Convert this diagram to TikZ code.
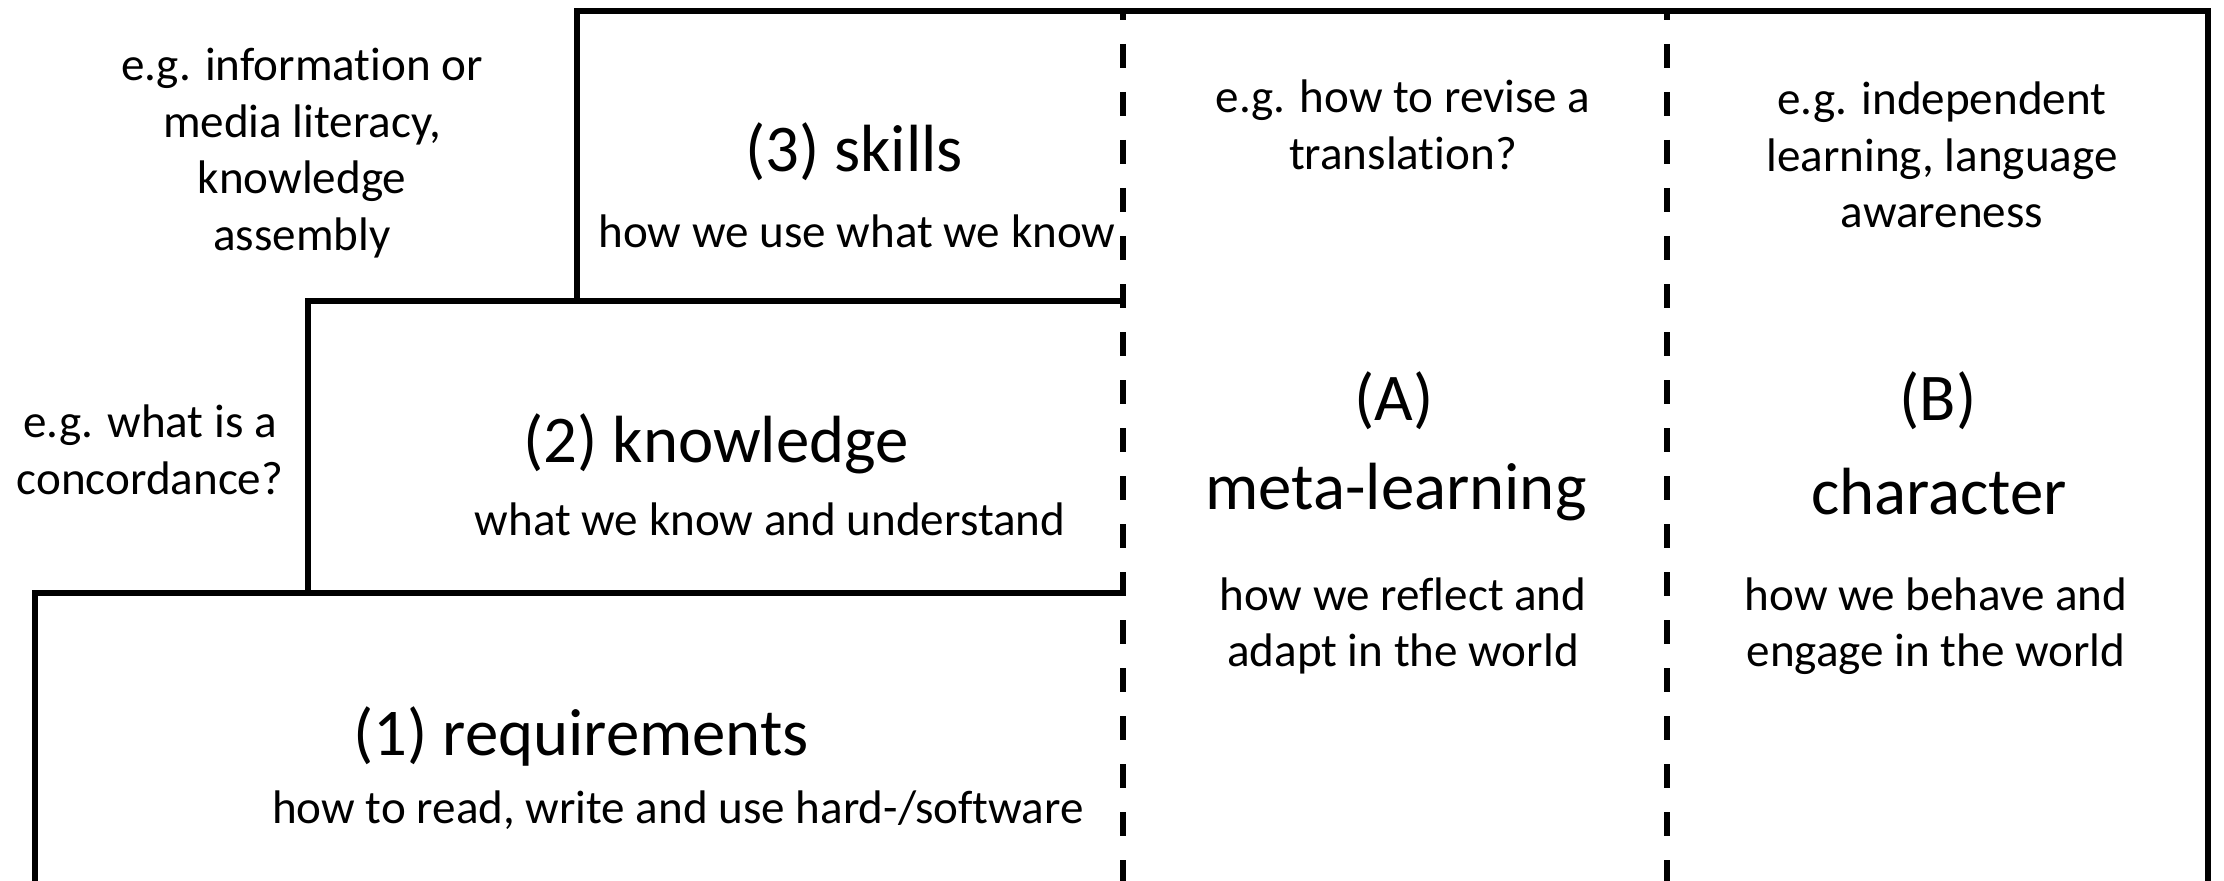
\documentclass[tikz,border=0pt]{standalone}
\usepackage{fontspec}
\setmainfont{Carlito}[Ligatures=CommonOff]
\usetikzlibrary{positioning}

\begin{document}
\begin{tikzpicture}
  \tikzset{outline/.style={draw, line width=1.5pt}}
  \tikzset{divider/.style={draw, line width=1.8pt, dash pattern=on 0.24cm off 0.24cm, dash phase=0.15cm}}
  \tikzset{title/.style={font=\fontsize{19}{23}\selectfont, inner sep=0pt}}
  \tikzset{note/.style={font=\fontsize{13.4}{16.1}\selectfont, align=center, inner sep=0pt}}

  \useasboundingbox (0,0) rectangle (22.24,-8.81);

  % corners of the stairs
  \coordinate (s3) at (5.77,-0.11);
  \coordinate (s2) at (3.08,-3.01);
  \coordinate (s1) at (0.35,-5.93);
  \coordinate (tr) at (22.08,-0.11);
  \coordinate (br) at (22.08,-8.81);
  \coordinate (bl) at (0.35,-8.81);
  \coordinate (da) at (11.23,-0.11);
  \coordinate (db) at (16.67,-0.11);

  \draw[outline] (bl) -- (s1) -| (s2) -| (s3) -- (tr) -- (br);
  \draw[outline] (s2) -- (s2 -| da);
  \draw[outline] (s1) -- (s1 -| da);
  \draw[divider] (da) -- (da |- bl);
  \draw[divider] (db) -- (db |- bl);

  % left column
  \node[note] (ex3) at (3.02,-1.53) {e.g. information or\\media literacy,\\knowledge\\assembly};
  \node[note] (ex2) at (1.50,-4.50) {e.g. what is a\\concordance?};

  \node[title] (skills) at (8.54,-1.52) {(3) skills};
  \node[note] (skillsd) at (8.57,-2.31) {how we use what we know};
  \node[title] (know) at (7.16,-4.44) {(2) knowledge};
  \node[note] (knowd) at (7.70,-5.19) {what we know and understand};
  \node[title] (req) at (5.81,-7.36) {(1) requirements};
  \node[note] (reqd) at (6.78,-8.10) {how to read, write and use hard-/software};

  % right columns
  \node[note] (exa) at (14.03,-1.25) {e.g. how to revise a\\translation?};
  \node[note] (exb) at (19.42,-1.55) {e.g. independent\\learning, language\\awareness};

  \node[title] (a) at (13.94,-4.01) {(A)};
  \node[title] (meta) at (13.96,-4.92) {meta-learning};
  \node[note] (metad) at (14.03,-6.26) {how we reflect and\\adapt in the world};
  \node[title] (b) at (19.38,-4.01) {(B)};
  \node[title] (char) at (19.39,-4.92) {character};
  \node[note] (chard) at (19.36,-6.26) {how we behave and\\engage in the world};
\end{tikzpicture}
\end{document}
